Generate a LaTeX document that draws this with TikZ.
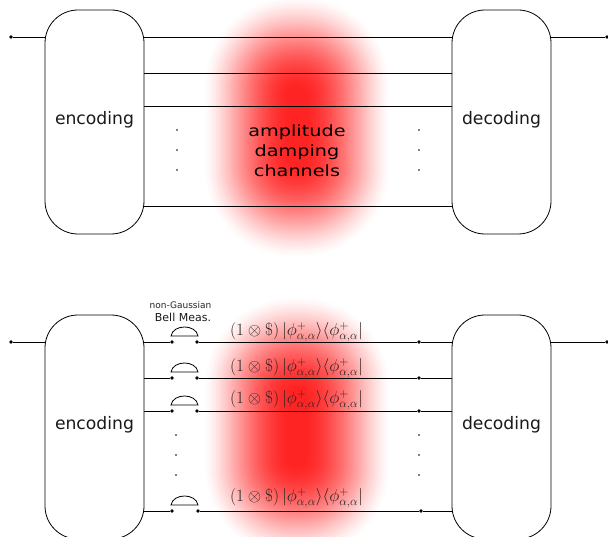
\documentclass[tikz,border=0pt]{standalone}
\usepackage{fontspec}
\setmainfont{DejaVu Sans}
\newcommand{\redblob}[1]{%
  \foreach \i in {0,...,50}{%
    \pgfmathsetmacro{\t}{\i/50}%
    \pgfmathsetmacro{\m}{86*pow(\t,1.5)*(2.2-1.2*\t)}%
    \pgfmathsetmacro{\hw}{94-84*\t}%
    \pgfmathsetmacro{\hh}{132-92*\t}%
    \pgfmathsetmacro{\rr}{\hw*0.95}%
    \fill[red!\m!white,rounded corners=\rr pt]
      (297-\hw,#1-\hh) rectangle (297+\hw,#1+\hh);
  }%
}
\tikzset{
  x=1pt,y=-1pt,
  wire/.style={draw=black,line width=0.8pt},
  codebox/.style={draw=black,fill=white,line width=0.8pt,rounded corners=33pt,
    minimum width=99pt,minimum height=224pt,inner sep=0pt},
  codelabel/.style={font=\fontsize{17.2pt}{20pt}\selectfont,text=black!90},
  dotm/.style={circle,fill=black,inner sep=0pt,minimum size=3.8pt},
  dotv/.style={circle,fill=black,inner sep=0pt,minimum size=1.8pt},
  meter/.style={draw=black,line width=0.8pt},
  chanlabel/.style={font=\fontsize{16.4pt}{17pt}\selectfont,text=black!85},
}
\begin{document}
\begin{tikzpicture}
\useasboundingbox (0,0) rectangle (608,537);
\clip (0,0) rectangle (608,537);
\fill[white] (0,0) rectangle (608,537);
\redblob{127}
\redblob{427}

% ---------- top diagram ----------
\node[codebox] (encA) at (94.5,122) {};
\node[codebox] (decA) at (501.5,122) {};
\node[codelabel] (encAt) at (94.5,119.5) {encoding};
\node[codelabel] (decAt) at (501.5,119.5) {decoding};
\node[dotm] (inA) at (11,37) {};
\node[dotm] (outA) at (607,37) {};
\draw[wire] (inA) -- (encA.west |- inA);
\draw[wire] (decA.east |- outA) -- (outA);
\foreach \n/\y in {1/37,2/73,3/106,4/206}{
  \coordinate (la\n) at (94,\y);
  \draw[wire] (encA.east |- la\n) -- (decA.west |- la\n);
}
\foreach \n/\y in {1/130,2/150,3/170}{
  \node[dotv] (ad\n) at (177,\y) {};
  \node[dotv] (bd\n) at (419,\y) {};
}
\node[font=\fontsize{15.5pt}{20pt}\selectfont,align=center,text=black,xscale=1.24] (chan) at (297,150.5)
  {amplitude\\damping\\channels};

% ---------- bottom diagram ----------
\node[codebox] (encB) at (94.5,427) {};
\node[codebox] (decB) at (501.5,427) {};
\node[codelabel] (encBt) at (94.5,424.5) {encoding};
\node[codelabel] (decBt) at (501.5,424.5) {decoding};
\node[dotm] (inB) at (11,342) {};
\node[dotm] (outB) at (607,342) {};
\draw[wire] (inB) -- (encB.west |- inB);
\draw[wire] (decB.east |- outB) -- (outB);
\foreach \n/\y/\a/\b in {1/342/197/419,2/378/197/419,3/411/197/419,4/511/198/421}{
  \node[dotm] (m\n) at (172,\y) {};
  \node[dotm] (p\n) at (\a,\y) {};
  \node[dotm] (q\n) at (\b,\y) {};
  \draw[wire] (encB.east |- m\n) -- (m\n);
  \draw[wire] (p\n) -- (q\n);
  \draw[wire] (q\n) -- (decB.west |- q\n);
  \draw[meter] (171,\y-6) .. controls (173,\y-18) and (196,\y-18) .. (198,\y-6) -- cycle;
}
\foreach \n/\y in {1/332,2/368,3/400,4/498}{
  \node[chanlabel] (lab\n) at (296.5,\y)
    {$(1\otimes\$)\,|\phi^+_{\alpha,\alpha}\rangle\langle\phi^+_{\alpha,\alpha}|$};
}
\foreach \n/\y in {1/435,2/455,3/475}{
  \node[dotv] (cd\n) at (176,\y) {};
  \node[dotv] (dd\n) at (419,\y) {};
}
\node[font=\fontsize{9pt}{10pt}\selectfont,text=black!85] (ng) at (180.5,305) {non-Gaussian};
\node[font=\fontsize{11pt}{12pt}\selectfont,text=black!90] (bm) at (183,317) {Bell Meas.};
\end{tikzpicture}
\end{document}
